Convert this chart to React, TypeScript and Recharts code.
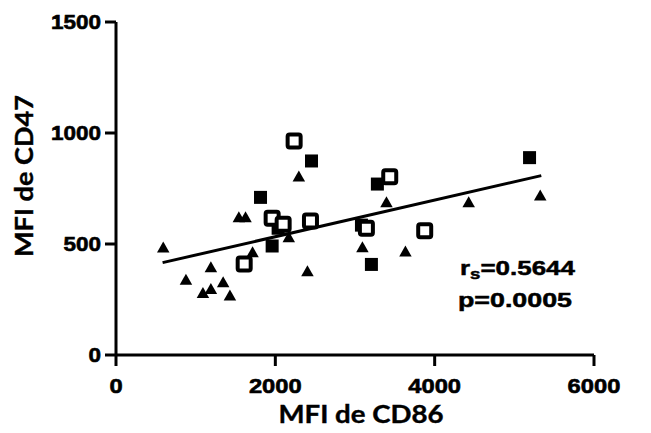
import React from "react";
import { ComposedChart, Scatter, XAxis, YAxis, Label } from "recharts";

const triangles = [
  { x: 593, y: 486 }, { x: 878, y: 341 }, { x: 1191, y: 398 }, { x: 1091, y: 281 },
  { x: 1191, y: 300 }, { x: 1345, y: 330 }, { x: 1430, y: 270 }, { x: 1542, y: 623 },
  { x: 1626, y: 623 }, { x: 1714, y: 465 }, { x: 2295, y: 806 }, { x: 2169, y: 533 },
  { x: 2403, y: 380 }, { x: 3093, y: 488 }, { x: 3395, y: 690 }, { x: 3633, y: 468 },
  { x: 4427, y: 690 }, { x: 5325, y: 721 },
];

const filledSquares = [
  { x: 1814, y: 710 }, { x: 1960, y: 491 }, { x: 2035, y: 571 }, { x: 2454, y: 874 },
  { x: 3081, y: 585 }, { x: 3206, y: 408 }, { x: 3281, y: 770 }, { x: 5191, y: 889 },
];

const openSquares = [
  { x: 1609, y: 410 }, { x: 1960, y: 616 }, { x: 2098, y: 589 }, { x: 2236, y: 964 },
  { x: 2441, y: 604 }, { x: 3143, y: 571 }, { x: 3436, y: 803 }, { x: 3875, y: 560 },
];

const fitLine = [
  { x: 585, y: 416 },
  { x: 5338, y: 808 },
];

const xTicks = [0, 2000, 4000, 6000];
const yTicks = [0, 500, 1000, 1500];

const xTitle = "MFI de CD86";
const yTitle = "MFI de CD47";
const rsText = "=0.5644";
const pText = "p=0.0005";

const tickFamily = "Liberation Sans";
const titleFamily = "Lato";

const XTick = (props: any) => {
  const { x, y, payload } = props;
  const s = String(payload.value);
  return (
    <text
      x={x}
      y={y}
      dy={15}
      textAnchor="middle"
      fontFamily={tickFamily}
      fontWeight={700}
      fontSize={21}
      fill="#000"
      stroke="#000"
      strokeWidth={0.6}
      textLength={s.length * 13.2}
      lengthAdjust="spacingAndGlyphs"
    >
      {s}
    </text>
  );
};

const YTick = (props: any) => {
  const { x, y, payload } = props;
  const s = String(payload.value);
  return (
    <text
      x={x}
      y={y}
      dy={7}
      textAnchor="end"
      fontFamily={tickFamily}
      fontWeight={700}
      fontSize={20}
      fill="#000"
      stroke="#000"
      strokeWidth={0.6}
      textLength={s.length * 12.5}
      lengthAdjust="spacingAndGlyphs"
    >
      {s}
    </text>
  );
};

const Triangle = (props: any) => {
  const { cx, cy } = props;
  if (cx == null || cy == null) return null;
  const w = 12.5, h = 11;
  return (
    <polygon
      points={`${cx},${cy - h / 2} ${cx + w / 2},${cy + h / 2} ${cx - w / 2},${cy + h / 2}`}
      fill="#000"
    />
  );
};

const FilledSquare = (props: any) => {
  const { cx, cy } = props;
  if (cx == null || cy == null) return null;
  const s = 13;
  return <rect x={cx - s / 2} y={cy - s / 2} width={s} height={s} fill="#000" />;
};

const OpenSquare = (props: any) => {
  const { cx, cy } = props;
  if (cx == null || cy == null) return null;
  const s = 13;
  return (
    <rect x={cx - s / 2} y={cy - s / 2} width={s} height={s} rx={2} fill="#fff" stroke="#000" strokeWidth={4} />
  );
};

const NoPoint = () => null;

export default function App() {
  return (
    <div style={{ position: "absolute", left: 0, top: 0, background: "#fff" }}>
      <ComposedChart width={651} height={433} margin={{ top: 22, right: 57, bottom: 0, left: 0 }}>
        <XAxis
          type="number"
          dataKey="x"
          domain={[0, 6000]}
          ticks={xTicks}
          interval={0}
          height={78}
          axisLine={{ stroke: "#000", strokeWidth: 3 }}
          tickLine={{ stroke: "#000", strokeWidth: 3 }}
          tickSize={11}
          tickMargin={12}
          tick={<XTick />}
          allowDataOverflow
        >
          <Label
            content={() => (
              <text
                x={361}
                y={423}
                textAnchor="middle"
                fontFamily={titleFamily}
                fontWeight={700}
                fontSize={25}
                fill="#000"
                stroke="#000"
                strokeWidth={0.4}
                textLength={165}
                lengthAdjust="spacingAndGlyphs"
              >
                {xTitle}
              </text>
            )}
          />
          <Label
            content={() => (
              <g>
                <text
                  x={460}
                  y={275}
                  fontFamily={tickFamily}
                  fontWeight={700}
                  fontSize={21}
                  fill="#000"
                  stroke="#000"
                  strokeWidth={0.5}
                  textLength={115}
                  lengthAdjust="spacingAndGlyphs"
                >
                  r
                  <tspan fontSize={15} dy={4}>s</tspan>
                  <tspan dy={-4}>{rsText}</tspan>
                </text>
                <text
                  x={458}
                  y={307}
                  fontFamily={tickFamily}
                  fontWeight={700}
                  fontSize={21}
                  fill="#000"
                  stroke="#000"
                  strokeWidth={0.5}
                  textLength={114}
                  lengthAdjust="spacingAndGlyphs"
                >
                  {pText}
                </text>
              </g>
            )}
          />
        </XAxis>
        <YAxis
          type="number"
          dataKey="y"
          domain={[0, 1500]}
          ticks={yTicks}
          interval={0}
          width={116}
          axisLine={{ stroke: "#000", strokeWidth: 3 }}
          tickLine={{ stroke: "#000", strokeWidth: 3 }}
          tickSize={11}
          tickMargin={4}
          tick={<YTick />}
          allowDataOverflow
        >
          <Label
            content={() => (
              <text
                x={33}
                y={176}
                transform="rotate(-90 33 176)"
                textAnchor="middle"
                fontFamily={titleFamily}
                fontWeight={700}
                fontSize={25}
                fill="#000"
                stroke="#000"
                strokeWidth={0.4}
                textLength={162}
                lengthAdjust="spacingAndGlyphs"
              >
                {yTitle}
              </text>
            )}
          />
        </YAxis>
        <Scatter data={fitLine} line={{ stroke: "#000", strokeWidth: 3 }} shape={NoPoint} isAnimationActive={false} />
        <Scatter data={triangles} shape={Triangle} isAnimationActive={false} />
        <Scatter data={filledSquares} shape={FilledSquare} isAnimationActive={false} />
        <Scatter data={openSquares} shape={OpenSquare} isAnimationActive={false} />
      </ComposedChart>
    </div>
  );
}
